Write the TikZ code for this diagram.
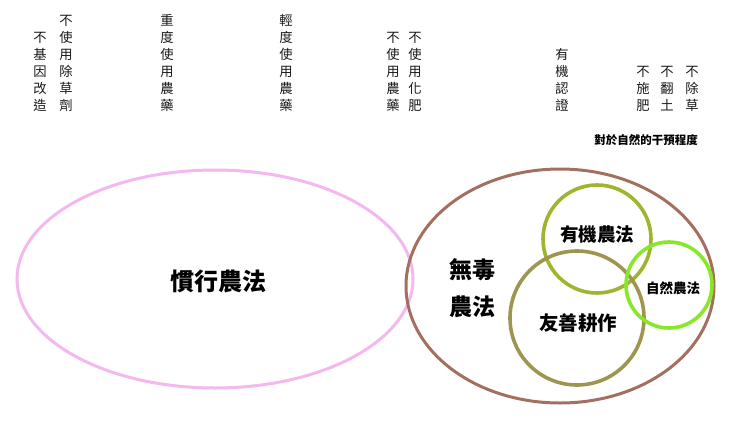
\documentclass[tikz,border=0pt]{standalone}
\usepackage{fontspec}
\newfontfamily\cjk{Noto Sans CJK TC}
\begin{document}
\begin{tikzpicture}[x=1pt,y=-1pt,
  vchar/.style={anchor=base,inner sep=0pt,font=\cjk\fontsize{13.3}{13}\selectfont,text=black!90},
  biglabel/.style={inner sep=0pt,font=\cjk\bfseries\fontsize{23}{28}\selectfont,align=center},
  ring/.style={line width=3.6pt}
]
\useasboundingbox (0,0) rectangle (740,421);
\definecolor{pinkring}{RGB}{243,185,238}
\definecolor{brownring}{RGB}{163,112,95}
\definecolor{olivering}{RGB}{158,181,48}
\definecolor{khakiring}{RGB}{158,150,80}
\definecolor{greenring}{RGB}{136,232,40}

% vertical labels: column x, first row index, characters
\foreach \c [count=\i] in {不,基,因,改,造} \node[vchar] (a\i) at (40,{37+17*(\i-1)+5}) {\c};
\foreach \c [count=\i] in {不,使,用,除,草,劑} \node[vchar] (b\i) at (66,{20+17*(\i-1)+5}) {\c};
\foreach \c [count=\i] in {重,度,使,用,農,藥} \node[vchar] (c\i) at (167,{20+17*(\i-1)+5}) {\c};
\foreach \c [count=\i] in {輕,度,使,用,農,藥} \node[vchar] (d\i) at (286,{20+17*(\i-1)+5}) {\c};
\foreach \c [count=\i] in {不,使,用,農,藥} \node[vchar] (e\i) at (393,{37+17*(\i-1)+5}) {\c};
\foreach \c [count=\i] in {不,使,用,化,肥} \node[vchar] (f\i) at (415,{37+17*(\i-1)+5}) {\c};
\foreach \c [count=\i] in {有,機,認,證} \node[vchar] (g\i) at (562,{54+17*(\i-1)+5}) {\c};
\foreach \c [count=\i] in {不,施,肥} \node[vchar] (h\i) at (643,{71+17*(\i-1)+5}) {\c};
\foreach \c [count=\i] in {不,翻,土} \node[vchar] (k\i) at (667,{71+17*(\i-1)+5}) {\c};
\foreach \c [count=\i] in {不,除,草} \node[vchar] (m\i) at (692,{71+17*(\i-1)+5}) {\c};

\node[inner sep=0pt,font=\cjk\bfseries\fontsize{11.5}{12}\selectfont] (axis) at (646,140) {對於自然的干預程度};

% ellipses
\draw[pinkring,line width=3pt] (215,279) ellipse [x radius=198,y radius=109];
\draw[brownring,line width=3pt] (560,286) ellipse [x radius=154,y radius=117];
\draw[olivering,ring] (597,239) circle [radius=54];
\draw[khakiring,ring] (577,318) circle [radius=67];
\draw[greenring,ring] (669,285) circle [radius=43];

% labels
\node[biglabel,font=\cjk\bfseries\fontsize{24}{28}\selectfont] (conv) at (218,281) {慣行農法};
\node[biglabel,font=\cjk\bfseries\fontsize{23}{37}\selectfont] (nontox) at (472,288) {無毒\\農法};
\node[biglabel,font=\cjk\bfseries\fontsize{18.5}{20}\selectfont] (organic) at (597,235) {有機農法};
\node[biglabel,font=\cjk\bfseries\fontsize{19.5}{20}\selectfont] (friendly) at (578,323) {友善耕作};
\node[biglabel,font=\cjk\bfseries\fontsize{13.5}{14}\selectfont] (natural) at (673,288) {自然農法};
\end{tikzpicture}
\end{document}
